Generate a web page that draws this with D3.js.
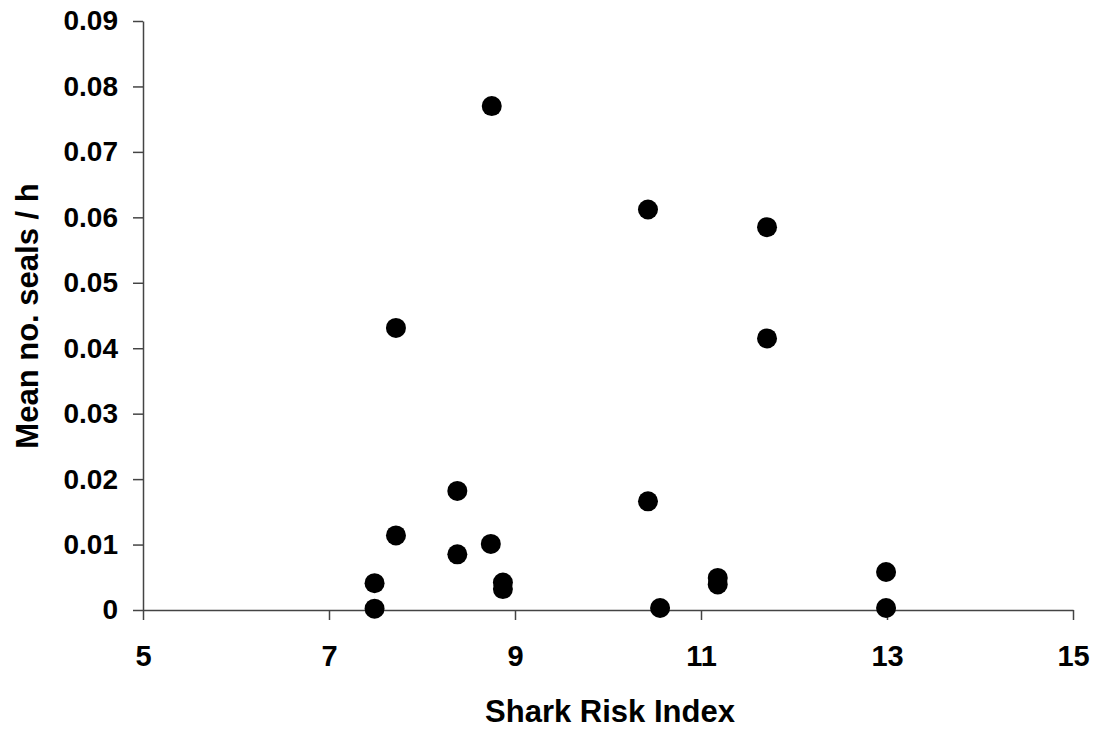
<!DOCTYPE html>
<html>
<head>
<meta charset="utf-8">
<script src="https://cdn.jsdelivr.net/npm/d3@7"></script>
<style>
  body { margin: 0; background: #fff; }
  text { font-family: Arial, "Liberation Sans", sans-serif; font-weight: bold; fill: #000; }
</style>
</head>
<body>
<div id="chart"></div>
<script>
// values
var sharkRisk = [7.49, 7.49, 7.72, 7.72, 8.38, 8.38, 8.75, 8.74, 8.87, 8.87,
                 10.43, 10.43, 10.56, 11.18, 11.18, 11.71, 11.71, 12.99, 12.99]
var sealsPerHour = [0.0002, 0.0041, 0.0114, 0.0431, 0.0182, 0.0085, 0.0770, 0.0101, 0.0042, 0.0032,
                    0.0612, 0.0166, 0.0003, 0.0049, 0.0039, 0.0585, 0.0415, 0.0058, 0.0003]
var xTicks = [5, 7, 9, 11, 13, 15]
var yTicks = [0, 0.01, 0.02, 0.03, 0.04, 0.05, 0.06, 0.07, 0.08, 0.09]

var width = 1103,
    height = 735,
    margin = {top: 21, right: 30, bottom: 125, left: 143}

var svg = d3.select("#chart").append("svg")
    .attr("width", width)
    .attr("height", height)

var x = d3.scaleLinear().domain([5, 15]).range([margin.left, width - margin.right])
var y = d3.scaleLinear().domain([0, 0.09]).range([height - margin.bottom, margin.top])

// x axis
var xAxis = svg.append("g")
    .attr("transform", "translate(0," + y(0) + ")")
    .call(d3.axisBottom(x).tickValues(xTicks).tickFormat(d3.format("d"))
        .tickSize(10).tickPadding(25).tickSizeOuter(0))
xAxis.selectAll("text").style("font-size", "29px")

// y axis
var yAxis = svg.append("g")
    .attr("transform", "translate(" + x(5) + ",0)")
    .call(d3.axisLeft(y).tickValues(yTicks)
        .tickFormat(function(d) { return d === 0 ? "0" : d3.format(".2f")(d) })
        .tickSize(10).tickPadding(15).tickSizeOuter(0))
yAxis.selectAll("text").style("font-size", "28px")

svg.selectAll(".domain, .tick line")
    .attr("stroke", "#444")
    .attr("stroke-width", 1.5)

// points
var points = d3.zip(sharkRisk, sealsPerHour)
svg.append("g")
    .selectAll("circle")
    .data(points)
    .enter().append("circle")
    .attr("cx", function(d) { return x(d[0]) })
    .attr("cy", function(d) { return y(d[1]) })
    .attr("r", 10)
    .attr("fill", "#000")

// axis titles
svg.append("text")
    .attr("x", (x(5) + x(15)) / 2 + 2)
    .attr("y", 722)
    .attr("text-anchor", "middle")
    .style("font-size", "31px")
    .text("Shark Risk Index")

svg.append("text")
    .attr("transform", "translate(38," + 316 + ") rotate(-90)")
    .attr("text-anchor", "middle")
    .style("font-size", "31px")
    .text("Mean no. seals / h")
</script>
</body>
</html>
